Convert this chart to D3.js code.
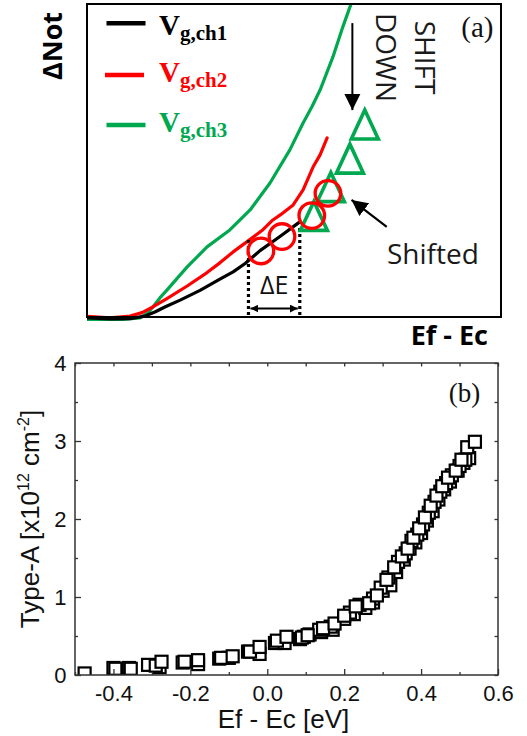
<!DOCTYPE html>
<html>
<head>
<meta charset="utf-8">
<script src="https://cdn.jsdelivr.net/npm/d3@7"></script>
<style>
  html, body { margin: 0; padding: 0; background: #fff; }
  svg { display: block; }
</style>
</head>
<body>
<svg id="chart" width="527" height="736"></svg>
<script>
// ---------- Panel (a): schematic curves (arbitrary units 0..100) ----------
const curveCh1 = [[0,-0.3],[5.6,-0.6],[10.4,-0.5],[14.0,0.3],[16.4,1.6],[18.8,3.2],[22.5,5.4],[27.3,8.5],[32.1,12.1],[35.3,14.4],[38.2,17.1],[41.8,21.2],[46.6,25.7],[51.4,30.4]];
const curveCh2 = [[0,0.2],[5.6,-0.3],[10.4,0.3],[13.3,1.4],[15.9,3.2],[19.3,5.9],[24.2,9.9],[29.0,14.2],[32.1,17.3],[35.3,20.8],[38.6,24.0],[42.5,27.9],[44.9,31.0],[47.3,33.2],[49.8,35.8],[52.2,40.6],[54.6,47.9],[56.3,51.8],[58.0,57.2]];
const curveCh3 = [[0,-1.1],[5.6,-1.1],[12.8,-0.3],[14.7,1.3],[15.9,3.2],[17.6,6.1],[19.3,8.6],[24.2,16.0],[29.0,22.4],[34.5,27.8],[39.4,34.2],[44.2,42.8],[49.0,53.4],[52.2,62.0],[54.3,67.1],[56.3,72.5],[59.4,83.1],[61.8,92.7],[63.5,99.0],[63.8,100]];
const circlePts = [[42.0,21.1],[47.1,25.7],[54.3,32.4],[58.2,39.5]];
const trianglePts = [[67.1,61.5],[63.5,50.6],[58.9,41.5],[54.8,32.3]];
const deltaE = { x0: 39.0, x1: 51.4, top0: 24.6, top1: 28.4, arrowY: 2.7 };
const legendLabels = [
  { sub: "g,ch1", color: "#000000" },
  { sub: "g,ch2", color: "#ff0000" },
  { sub: "g,ch3", color: "#00a84f" }
];

// ---------- Panel (b): Type-A vs Ef-Ec ----------
const seriesA = [[-0.475,0.02],[-0.40,0.09],[-0.36,0.09],[-0.31,0.13],[-0.28,0.10],[-0.22,0.16],[-0.18,0.14],[-0.125,0.21],[-0.10,0.22],[-0.05,0.30],[-0.02,0.27],[0.02,0.41],[0.045,0.41],[0.085,0.46],[0.11,0.52],[0.14,0.55],[0.17,0.58],[0.20,0.72],[0.225,0.78],[0.255,0.86],[0.275,0.93],[0.30,1.08],[0.32,1.15],[0.335,1.32],[0.355,1.48],[0.37,1.62],[0.385,1.70],[0.40,1.82],[0.415,1.98],[0.43,2.10],[0.445,2.25],[0.46,2.38],[0.475,2.48],[0.495,2.62],[0.51,2.72],[0.525,2.78]];
const seriesB = [[0.095,0.49],[0.135,0.58],[0.165,0.62],[0.215,0.80],[0.24,0.90],[0.275,0.98],[0.295,1.12],[0.315,1.25],[0.34,1.45],[0.36,1.56],[0.375,1.72],[0.39,1.80],[0.405,1.93],[0.42,2.08],[0.435,2.22],[0.45,2.35],[0.465,2.46],[0.48,2.56],[0.50,2.68],[0.515,2.76]];
const seriesC = [[-0.395,0.08],[-0.355,0.08],[-0.29,0.12],[-0.275,0.17],[-0.215,0.17],[-0.18,0.19],[-0.12,0.22],[-0.09,0.24],[-0.045,0.30],[-0.02,0.36],[0.025,0.44],[0.05,0.49],[0.09,0.48],[0.105,0.51],[0.145,0.60],[0.175,0.66],[0.20,0.76],[0.23,0.88],[0.265,0.92],[0.285,1.02],[0.31,1.22],[0.33,1.38],[0.35,1.52],[0.365,1.62],[0.38,1.76],[0.395,1.88],[0.41,2.02],[0.425,2.17],[0.44,2.30],[0.455,2.42],[0.47,2.53],[0.49,2.62],[0.505,2.76],[0.52,2.92],[0.54,2.99]];
const xTicksB = [-0.4,-0.2,0.0,0.2,0.4,0.6];
const xMinorB = [-0.5,-0.3,-0.1,0.1,0.3,0.5];
const yTicksB = [0,1,2,3,4];
const yMinorB = [0.5,1.5,2.5,3.5];

const svg = d3.select("#chart");

// ================= Panel (a) =================
const A = { left: 87, right: 501, top: 4, bottom: 317 };
const xa = d3.scaleLinear().domain([0,100]).range([A.left, A.right]);
const ya = d3.scaleLinear().domain([0,100]).range([A.bottom, A.top]);
const ga = svg.append("g");

const defs = svg.append("defs");
defs.append("marker").attr("id","ah").attr("viewBox","0 0 10 10")
  .attr("refX",10).attr("refY",5).attr("markerWidth",8).attr("markerHeight",8)
  .attr("markerUnits","userSpaceOnUse").attr("orient","auto-start-reverse")
  .append("path").attr("d","M0,0 L10,5 L0,10 Z").attr("fill","#000");
defs.append("marker").attr("id","ahBig").attr("viewBox","0 0 10 10")
  .attr("refX",10).attr("refY",5).attr("markerWidth",16).attr("markerHeight",17)
  .attr("markerUnits","userSpaceOnUse").attr("orient","auto")
  .append("path").attr("d","M0,0 L10,5 L0,10 Z").attr("fill","#000");
defs.append("clipPath").attr("id","clipA").append("rect")
  .attr("x",A.left).attr("y",A.top).attr("width",A.right-A.left).attr("height",A.bottom-A.top+4);

const lineA = d3.line().x(d => xa(d[0])).y(d => ya(d[1])).curve(d3.curveLinear);
const curves = [curveCh3, curveCh2, curveCh1];
const curveColors = [legendLabels[2].color, legendLabels[1].color, legendLabels[0].color];
const gc = ga.append("g").attr("clip-path","url(#clipA)");
curves.forEach((c,i) => {
  gc.append("path").attr("d", lineA(c)).attr("fill","none")
    .attr("stroke", curveColors[i]).attr("stroke-width",3.2)
    .attr("stroke-linejoin","round").attr("stroke-linecap","round");
});

// dotted ΔE lines
ga.append("line").attr("x1",xa(deltaE.x0)).attr("x2",xa(deltaE.x0))
  .attr("y1",ya(deltaE.top0)).attr("y2",ya(-0.3))
  .attr("stroke","#000").attr("stroke-width",3.2).attr("stroke-dasharray","3,3");
ga.append("line").attr("x1",xa(deltaE.x1)).attr("x2",xa(deltaE.x1))
  .attr("y1",ya(deltaE.top1)).attr("y2",ya(-0.3))
  .attr("stroke","#000").attr("stroke-width",3.2).attr("stroke-dasharray","3,3");
ga.append("line").attr("x1",xa(deltaE.x0)+2).attr("x2",xa(deltaE.x1)-2)
  .attr("y1",ya(deltaE.arrowY)).attr("y2",ya(deltaE.arrowY))
  .attr("stroke","#000").attr("stroke-width",2)
  .attr("marker-start","url(#ah)").attr("marker-end","url(#ah)");
ga.append("text").attr("x",xa((deltaE.x0+deltaE.x1)/2)).attr("y",294)
  .attr("text-anchor","middle").attr("font-family","Open Sans").attr("font-size",25)
  .attr("fill","#111").text("ΔE");

// triangles
const triW = 13.5, triH = 14.5;
ga.selectAll("path.tri").data(trianglePts).enter().append("path").attr("class","tri")
  .attr("d", d => {
    const cx = xa(d[0]), cy = ya(d[1]);
    const p = d3.path();
    p.moveTo(cx, cy - triH); p.lineTo(cx + triW, cy + triH); p.lineTo(cx - triW, cy + triH); p.closePath();
    return p.toString();
  })
  .attr("fill","none").attr("stroke", legendLabels[2].color).attr("stroke-width",3.6)
  .attr("stroke-linejoin","miter");

// circles
ga.selectAll("circle.oc").data(circlePts).enter().append("circle").attr("class","oc")
  .attr("cx", d => xa(d[0])).attr("cy", d => ya(d[1])).attr("r", 12.8)
  .attr("fill","none").attr("stroke", legendLabels[1].color).attr("stroke-width",3.3);

// border
ga.append("rect").attr("x",A.left).attr("y",A.top).attr("width",A.right-A.left).attr("height",A.bottom-A.top)
  .attr("fill","none").attr("stroke","#000").attr("stroke-width",2);

// legend
const legY = [{ line: 23.3, base: 35 }, { line: 75, base: 81.7 }, { line: 125, base: 131.5 }];
const legX = [[106.5,145.5],[105,144],[106.5,145.5]];
legendLabels.forEach((l,i) => {
  ga.append("line").attr("x1",legX[i][0]).attr("x2",legX[i][1])
    .attr("y1",legY[i].line).attr("y2",legY[i].line)
    .attr("stroke",l.color).attr("stroke-width",4.5);
  const t = ga.append("text").attr("x",159).attr("y",legY[i].base)
    .attr("font-family","Liberation Serif").attr("font-weight","bold").attr("fill",l.color);
  t.append("tspan").attr("font-size",29).text("V");
  t.append("tspan").attr("font-size",21).attr("dy",5).text(l.sub);
});

// SHIFT DOWN
ga.append("line").attr("x1",xa(64.1)).attr("x2",xa(64.1)).attr("y1",ya(93.9)).attr("y2",ya(66.1))
  .attr("stroke","#000").attr("stroke-width",2).attr("marker-end","url(#ahBig)");
[["SHIFT",415],["DOWN",375.5]].forEach(([s,x]) => {
  ga.append("text").attr("transform",`translate(${x},57.5) rotate(90)`)
    .attr("text-anchor","middle").attr("font-family","Open Sans").attr("font-size",28)
    .attr("fill","#1a1a1a").text(s);
});
// Shifted arrow
ga.append("line").attr("x1",xa(72.4)).attr("x2",xa(63.9)).attr("y1",ya(28.8)).attr("y2",ya(37.4))
  .attr("stroke","#000").attr("stroke-width",2.2).attr("marker-end","url(#ahBig)");
ga.append("text").attr("x",387).attr("y",263.5).attr("font-family","Open Sans").attr("font-size",28)
  .attr("fill","#1a1a1a").text("Shifted");
ga.append("text").attr("x",493.5).attr("y",36.5).attr("text-anchor","end")
  .attr("font-family","Liberation Serif").attr("font-size",29).attr("fill","#111").text("(a)");
// axis labels (a)
ga.append("text").attr("transform","translate(62,46) rotate(-90)").attr("text-anchor","middle")
  .attr("font-family","Open Sans").attr("font-weight","bold").attr("font-size",27)
  .attr("fill","#000").text("ΔNot");
ga.append("text").attr("x",488).attr("y",345).attr("text-anchor","end")
  .attr("font-family","Open Sans").attr("font-weight","bold").attr("font-size",27)
  .attr("fill","#000").text("Ef - Ec");

// ================= Panel (b) =================
const B = { left: 75, right: 498, top: 363, bottom: 675 };
const xb = d3.scaleLinear().domain([-0.5,0.6]).range([B.left, B.right]);
const yb = d3.scaleLinear().domain([0,4]).range([B.bottom, B.top]);
const gb = svg.append("g");
const axisColor = "#333";
defs.append("clipPath").attr("id","clipB").append("rect")
  .attr("x",B.left).attr("y",B.top).attr("width",B.right-B.left).attr("height",B.bottom-B.top);

// markers
const gm = gb.append("g").attr("clip-path","url(#clipB)");
const sq = 12;
[seriesA, seriesB, seriesC].forEach(s => {
  gm.append("g").selectAll("rect").data(s).enter().append("rect")
    .attr("x", d => xb(d[0]) - sq/2).attr("y", d => yb(d[1]) - sq/2)
    .attr("width", sq).attr("height", sq)
    .attr("fill","#fff").attr("stroke","#000").attr("stroke-width",2.2);
});

// frame
gb.append("rect").attr("x",B.left).attr("y",B.top).attr("width",B.right-B.left).attr("height",B.bottom-B.top)
  .attr("fill","none").attr("stroke",axisColor).attr("stroke-width",1.5);

function styleAxis(g, fontSize) {
  g.select(".domain").remove();
  g.selectAll(".tick line").attr("stroke",axisColor).attr("stroke-width",1.3);
  g.selectAll(".tick text").attr("font-family","Liberation Sans").attr("font-size",fontSize).attr("fill","#111");
}
const xAxis = gb.append("g").attr("transform",`translate(0,${B.bottom})`)
  .call(d3.axisBottom(xb).tickValues(xTicksB).tickFormat(d => d.toFixed(1)).tickSize(-6).tickPadding(10));
styleAxis(xAxis, 22);
const xMin = gb.append("g").attr("transform",`translate(0,${B.bottom})`)
  .call(d3.axisBottom(xb).tickValues(xMinorB).tickFormat("").tickSize(-3));
styleAxis(xMin, 22);
const xTop = gb.append("g").attr("transform",`translate(0,${B.top})`)
  .call(d3.axisTop(xb).tickValues(xTicksB.concat(xMinorB)).tickFormat("").tickSize(-3.5));
styleAxis(xTop, 22);
const yAxis = gb.append("g").attr("transform",`translate(${B.left},0)`)
  .call(d3.axisLeft(yb).tickValues(yTicksB).tickFormat(d3.format("d")).tickSize(-6).tickPadding(8.5));
styleAxis(yAxis, 22);
const yMin = gb.append("g").attr("transform",`translate(${B.left},0)`)
  .call(d3.axisLeft(yb).tickValues(yMinorB).tickFormat("").tickSize(-3));
styleAxis(yMin, 22);
const yRight = gb.append("g").attr("transform",`translate(${B.right},0)`)
  .call(d3.axisRight(yb).tickValues(yTicksB.concat(yMinorB)).tickFormat("").tickSize(-3.5));
styleAxis(yRight, 22);

gb.append("text").attr("x",464.5).attr("y",402).attr("text-anchor","middle")
  .attr("font-family","Liberation Serif").attr("font-size",27).attr("fill","#111").text("(b)");

gb.append("text").attr("x",(B.left+B.right)/2 - 3).attr("y",727.5).attr("text-anchor","middle")
  .attr("font-family","Liberation Sans").attr("font-size",26).attr("fill","#111").text("Ef - Ec [eV]");
const yt = gb.append("text").attr("transform",`translate(39,${(B.top+B.bottom)/2}) rotate(-90)`)
  .attr("text-anchor","middle").attr("font-family","Liberation Sans").attr("font-size",26).attr("fill","#111");
yt.append("tspan").text("Type-A [x10");
yt.append("tspan").attr("font-size",16).attr("dy",-10).text("12");
yt.append("tspan").attr("dy",10).text(" cm");
yt.append("tspan").attr("font-size",16).attr("dy",-10).text("-2");
yt.append("tspan").attr("dy",10).text("]");
</script>
</body>
</html>
